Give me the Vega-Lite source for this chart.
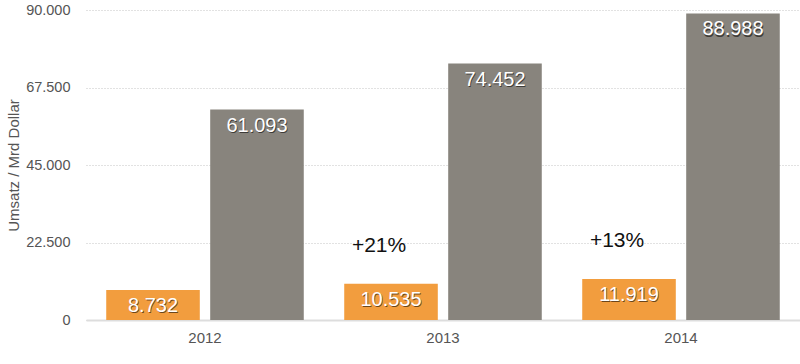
{
  "$schema": "https://vega.github.io/schema/vega-lite/v6.json",
  "width": 714,
  "height": 310,
  "autosize": {"type": "none"},
  "padding": {"left": 86, "top": 10, "right": 0, "bottom": 34},
  "config": {
    "locale": {"number": {"decimal": ",", "thousands": ".", "grouping": [3], "currency": ["", " €"]}},
    "view": {"stroke": null},
    "font": "Liberation Sans"
  },
  "data": {
    "values": [
      {"year": "2012", "series": "Reihe 1", "value": 8732, "change": ""},
      {"year": "2012", "series": "Reihe 2", "value": 61093, "change": ""},
      {"year": "2013", "series": "Reihe 1", "value": 10535, "change": "+21%"},
      {"year": "2013", "series": "Reihe 2", "value": 74452, "change": ""},
      {"year": "2014", "series": "Reihe 1", "value": 11919, "change": "+13%"},
      {"year": "2014", "series": "Reihe 2", "value": 88988, "change": ""}
    ]
  },
  "encoding": {
    "x": {
      "field": "year", "type": "nominal",
      "scale": {"paddingInner": 0.17, "paddingOuter": 0.085},
      "axis": {"title": null, "labelAngle": 0, "ticks": false, "domainColor": "#dddddd", "domainWidth": 2, "labelPadding": 10, "labelFontSize": 15, "labelColor": "#555555"}
    },
    "xOffset": {"field": "series", "type": "nominal", "scale": {"paddingInner": 0.1}},
    "y": {
      "field": "value", "type": "quantitative",
      "scale": {"domain": [0, 90000]},
      "axis": {
        "values": [0, 22500, 45000, 67500, 90000],
        "format": ",d",
        "domain": false, "ticks": false,
        "gridDash": [1, 2], "gridColor": "#c4c4c4",
        "labelPadding": 16, "labelFontSize": 14.5, "labelColor": "#555555",
        "title": "Umsatz / Mrd Dollar", "titleFontSize": 15, "titleFontWeight": "normal", "titleColor": "#555555", "titlePadding": 4
      }
    }
  },
  "layer": [
    {
      "mark": {"type": "bar"},
      "encoding": {
        "color": {"field": "series", "type": "nominal", "scale": {"range": ["#F29D3E", "#88847D"]}, "legend": null}
      }
    },
    {
      "mark": {"type": "text", "baseline": "middle", "dy": 17.5, "dx": 0.8, "fontSize": 20, "color": "#000000", "opacity": 0.55},
      "encoding": {"text": {"field": "value", "type": "quantitative", "format": ",d"}}
    },
    {
      "mark": {"type": "text", "baseline": "middle", "dy": 16, "fontSize": 20, "color": "#ffffff"},
      "encoding": {"text": {"field": "value", "type": "quantitative", "format": ",d"}}
    },
    {
      "transform": [{"filter": "datum.change != ''"}],
      "mark": {"type": "text", "baseline": "alphabetic", "dy": -32, "dx": -12, "fontSize": 21, "color": "#111111"},
      "encoding": {"text": {"field": "change", "type": "nominal"}}
    }
  ]
}
